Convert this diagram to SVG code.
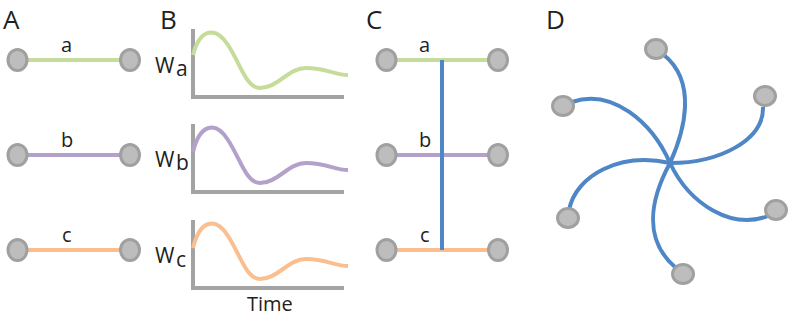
<svg xmlns="http://www.w3.org/2000/svg" width="790" height="318" viewBox="0 0 790 318">
<style>
.lbl{font-family:"Open Sans","Liberation Sans",sans-serif;font-size:26px;fill:#231f20}
.t{font-family:"Open Sans","Liberation Sans",sans-serif;font-size:20px;fill:#231f20}
.w{font-family:"Open Sans","Liberation Sans",sans-serif;font-size:21px;fill:#231f20}
.node{fill:#bdbdbd;stroke:#a0a0a0;stroke-width:3}
.e{fill:none;stroke-width:4}
.ga{stroke:#c6dc9b}.gb{stroke:#b3a1cc}.gc{stroke:#fbbf8f}.bl{stroke:#4f86c6}
.ax{fill:none;stroke:#a3a3a3;stroke-width:4}
</style>
<rect width="790" height="318" fill="#fff"/>
<text class="lbl" x="3" y="29">A</text>
<text class="lbl" x="160" y="29">B</text>
<text class="lbl" x="366" y="29">C</text>
<text class="lbl" x="546" y="29">D</text>

<g id="connectors">
<line class="e ga" x1="27" y1="60" x2="121" y2="60"/>
<line class="e gb" x1="27" y1="155" x2="121" y2="155"/>
<line class="e gc" x1="27" y1="250" x2="121" y2="250"/>
<line class="e ga" x1="397" y1="60" x2="488" y2="60"/>
<line class="e gb" x1="397" y1="155" x2="488" y2="155"/>
<line class="e gc" x1="397" y1="250" x2="488" y2="250"/>
<line class="e bl" x1="442" y1="60" x2="442" y2="250"/>
<path class="e bl" d="M670 163 C685 130 697 82 664 55"/>
<path class="e bl" d="M670 163 C720 163 764 140 763 107"/>
<path class="e bl" d="M572 102 C612 88 652 122 670 163"/>
<path class="e bl" d="M670 163 C690 205 732 230 768 216"/>
<path class="e bl" d="M670 163 C620 152 576 175 569 210"/>
<path class="e bl" d="M670 163 C650 200 643 240 676 268"/>
</g>

<g id="A">
<text class="t" x="61" y="52">a</text>
<text class="t" x="61" y="147">b</text>
<text class="t" x="62" y="242">c</text>
<ellipse class="node" cx="17.5" cy="60" rx="9.5" ry="10.5"/>
<ellipse class="node" cx="130" cy="60" rx="9.5" ry="10.5"/>
<ellipse class="node" cx="17.5" cy="155" rx="9.5" ry="10.5"/>
<ellipse class="node" cx="130" cy="155" rx="9.5" ry="10.5"/>
<ellipse class="node" cx="17.5" cy="250" rx="9.5" ry="10.5"/>
<ellipse class="node" cx="130" cy="250" rx="9.5" ry="10.5"/>
</g>

<g id="B">
<g id="graph-a">
<path class="ax" d="M193 29 V97 H344"/>
<path class="e ga" d="M193 55 C200 28 216 26 228 45 C240 63 246 88 260 88 C278 88 288 68 306 68 C326 68 335 75 348 75"/>
<text class="w" x="155" y="73">W</text><text class="w" x="176" y="76">a</text>
</g>
<g id="graph-b">
<path class="ax" d="M193 124 V192 H344"/>
<path class="e gb" d="M193 152 C200 123 216 121 228 140 C240 158 246 183 260 183 C278 183 288 163 306 163 C326 163 335 170 348 170"/>
<text class="w" x="155" y="167">W</text><text class="w" x="176" y="170">b</text>
</g>
<g id="graph-c">
<path class="ax" d="M193 220 V288 H344"/>
<path class="e gc" d="M193 248 C200 219 216 217 228 236 C240 254 246 279 260 279 C278 279 288 259 306 259 C326 259 335 266 348 266"/>
<text class="w" x="155" y="263">W</text><text class="w" x="176" y="267">c</text>
</g>
<text class="t" x="247" y="311">Time</text>
</g>

<g id="C">
<text class="t" x="419" y="52">a</text>
<text class="t" x="419" y="147">b</text>
<text class="t" x="420" y="242">c</text>
<ellipse class="node" cx="386.5" cy="60" rx="9.5" ry="10.5"/>
<ellipse class="node" cx="498" cy="60" rx="9.5" ry="10.5"/>
<ellipse class="node" cx="386.5" cy="155" rx="9.5" ry="10.5"/>
<ellipse class="node" cx="498" cy="155" rx="9.5" ry="10.5"/>
<ellipse class="node" cx="386.5" cy="250" rx="9.5" ry="10.5"/>
<ellipse class="node" cx="498" cy="250" rx="9.5" ry="10.5"/>
</g>

<g id="D">
<ellipse id="d1" class="node" cx="656" cy="49" rx="10.5" ry="9.5"/>
<ellipse id="d2" class="node" cx="765" cy="96" rx="10.5" ry="9.5"/>
<ellipse id="d3" class="node" cx="563" cy="106" rx="10.5" ry="9.5"/>
<ellipse id="d4" class="node" cx="776" cy="210" rx="10.5" ry="9.5"/>
<ellipse id="d5" class="node" cx="568" cy="218" rx="10.5" ry="9.5"/>
<ellipse id="d6" class="node" cx="683" cy="274" rx="10.5" ry="9.5"/>
</g>
</svg>
